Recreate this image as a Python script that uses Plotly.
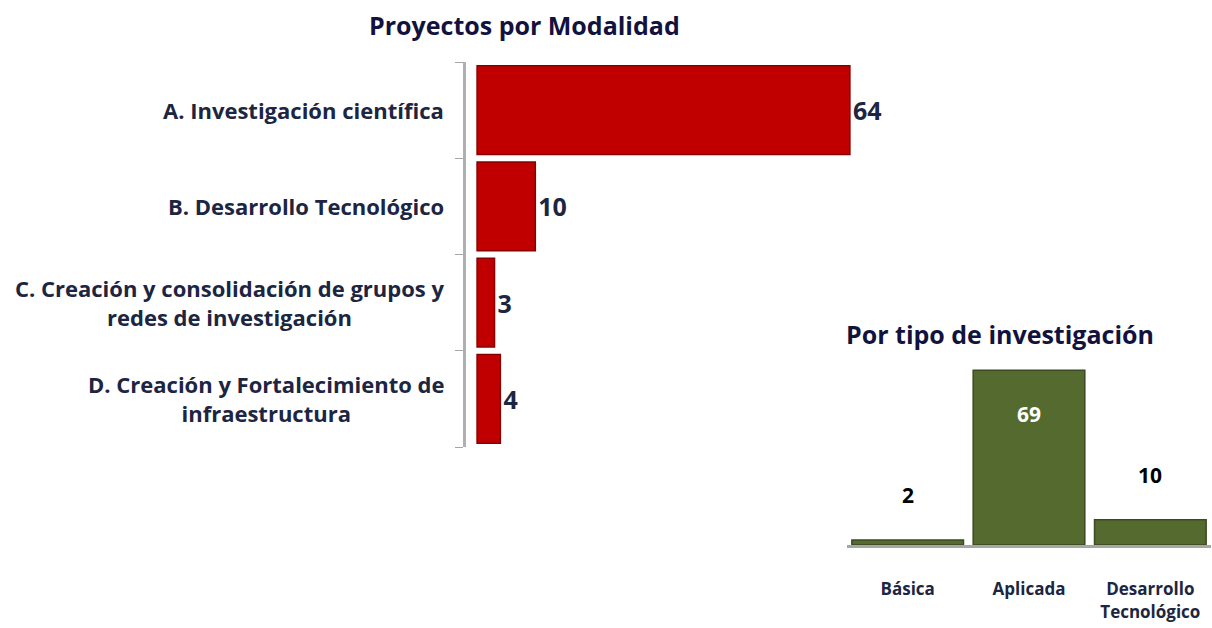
import plotly.graph_objects as go

# ---- data ----
modalidad_labels = [
    "A. Investigación científica",
    "B. Desarrollo Tecnológico",
    "C. Creación y consolidación de grupos y<br>redes de investigación",
    "D. Creación y Fortalecimiento de<br>infraestructura",
]
modalidad_keys = ["A", "B", "C", "D"]
modalidad_values = [64, 10, 3, 4]

tipo_labels = ["Básica", "Aplicada", "Desarrollo<br>Tecnológico"]
tipo_values = [2, 69, 10]

W, H = 1212, 628
def px_x(p): return p / W
def px_y(p): return 1 - p / H

FONT = "Open Sans"
NAVY = "#1c2541"
TITLE = "#12123e"
RED = "#c00000"
GREEN = "#546a2e"

fig = go.Figure()

fig.add_trace(go.Bar(
    y=modalidad_keys, x=modalidad_values, orientation="h",
    marker=dict(color=RED, line=dict(color="#8a0000", width=1.5)),
    text=[str(v) for v in modalidad_values], textposition="outside",
    textfont=dict(family=FONT, size=25, color=NAVY, weight="bold"),
    cliponaxis=False,
    xaxis="x", yaxis="y", showlegend=False, hoverinfo="skip",
))

fig.add_trace(go.Bar(
    x=tipo_labels, y=tipo_values,
    marker=dict(color=GREEN, line=dict(color="#3b4a20", width=1.5)),
    showlegend=False, hoverinfo="skip",
    xaxis="x2", yaxis="y2",
))

annotations = []
# left category labels
for k, lab in zip(modalidad_keys, modalidad_labels):
    annotations.append(dict(
        text=lab, x=px_x(446), xref="paper", y=k, yref="y",
        xanchor="right", yanchor="middle", align="center", showarrow=False,
        font=dict(family=FONT, size=22, color=NAVY, weight="bold"),
    ))
# value labels on green chart
for lab, v in zip(tipo_labels, tipo_values):
    if v == max(tipo_values):
        annotations.append(dict(
            text=str(v), x=lab, y=v, xref="x2", yref="y2",
            yanchor="top", yshift=-28, showarrow=False,
            font=dict(family=FONT, size=21, color="white", weight="bold"),
        ))
    else:
        annotations.append(dict(
            text=str(v), x=lab, y=v, xref="x2", yref="y2",
            yanchor="bottom", yshift=29, showarrow=False,
            font=dict(family=FONT, size=21, color="black", weight="bold"),
        ))
# titles
annotations.append(dict(
    text="Proyectos por Modalidad", x=px_x(524), y=px_y(25), xref="paper", yref="paper",
    showarrow=False, xanchor="center", yanchor="middle",
    font=dict(family=FONT, size=25, color=TITLE, weight="bold"),
))
annotations.append(dict(
    text="Por tipo de investigación", x=px_x(1000), y=px_y(334), xref="paper", yref="paper",
    showarrow=False, xanchor="center", yanchor="middle",
    font=dict(family=FONT, size=25, color=TITLE, weight="bold"),
))

fig.update_layout(
    width=W, height=H,
    margin=dict(l=0, r=0, t=0, b=0),
    paper_bgcolor="white", plot_bgcolor="rgba(0,0,0,0)",
    bargap=0.08,
    xaxis=dict(domain=[px_x(466), px_x(900)], range=[-1.9, 72.6], visible=False, fixedrange=True),
    yaxis=dict(domain=[px_y(447), px_y(62)], type="category",
               categoryorder="array", categoryarray=modalidad_keys[::-1],
               showticklabels=False, showline=True, linecolor="#b0b0b0", linewidth=3,
               ticks="outside", tickson="boundaries", ticklen=8, tickcolor="#a6a6a6",
               showgrid=False, zeroline=False, anchor="x"),
    xaxis2=dict(domain=[px_x(847), px_x(1211)], anchor="y2", type="category",
                showline=True, linecolor="#a6a6a6", linewidth=3,
                ticks="", ticklabelstandoff=27,
                tickfont=dict(family=FONT, size=17, color=NAVY, weight="bold")),
    yaxis2=dict(domain=[px_y(545), px_y(360)], range=[0, 73], visible=False, anchor="x2"),
    annotations=annotations,
)

fig.write_html("out.html")
